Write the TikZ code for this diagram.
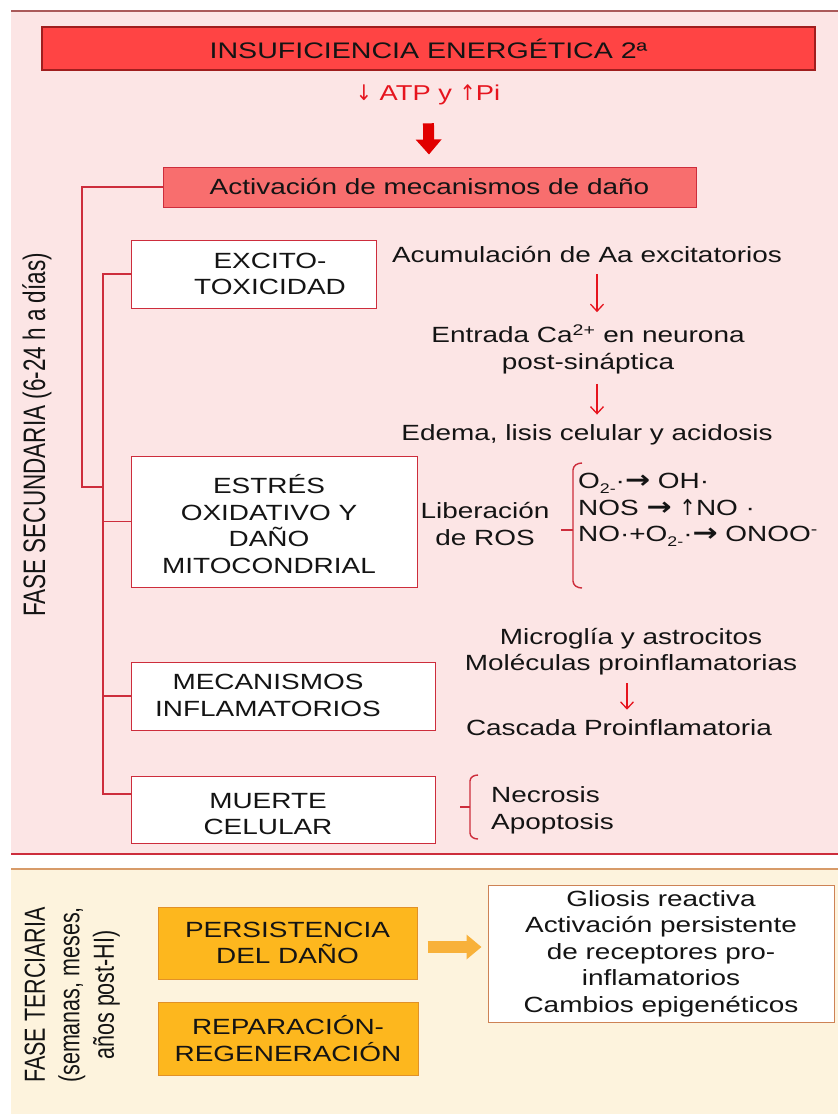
\documentclass[tikz,border=0pt]{standalone}
\usepackage{fontspec}
\setmainfont{Liberation Sans}[FakeStretch=1.27]
\newfontfamily\rotfont{Liberation Sans}
\newfontfamily\arrfont{DejaVu Sans}[FakeStretch=1.2]
\newfontfamily\updnfont{DejaVu Sans}[FakeStretch=0.9]
\usetikzlibrary{arrows.meta,calc}
\definecolor{pinkbg}{RGB}{252,229,229}
\definecolor{beigebg}{RGB}{253,243,221}
\definecolor{toplinec}{RGB}{170,90,90}
\definecolor{redline}{RGB}{205,45,60}
\definecolor{titlered}{RGB}{255,68,68}
\definecolor{titleborder}{RGB}{160,30,30}
\definecolor{actred}{RGB}{248,110,110}
\definecolor{arrred}{RGB}{230,20,30}
\definecolor{bigred}{RGB}{225,0,0}
\definecolor{goldfill}{RGB}{253,183,30}
\definecolor{goldborder}{RGB}{225,145,40}
\definecolor{orarrow}{RGB}{248,177,58}
\definecolor{tanline}{RGB}{215,155,105}
\definecolor{resborder}{RGB}{205,130,85}
\definecolor{txt}{RGB}{20,20,20}
\newcommand\bodysize{\fontsize{22}{26.5}\selectfont}
\newcommand\mysub[1]{\raisebox{-0.45ex}{\fontsize{14}{14}\selectfont #1}}
\newcommand\rarr{{\arrfont\bfseries\fontsize{25}{26}\selectfont →}}
\newcommand\uparr{{\updnfont ↑}}
\newcommand\dnarr{{\updnfont ↓}}
\begin{document}
\begin{tikzpicture}[x=1pt,y=1pt,font=\bodysize,text=txt,
  whitebox/.style={draw=redline,fill=white,line width=1pt,inner sep=0},
  goldbox/.style={draw=goldborder,fill=goldfill,line width=1pt,inner sep=0,align=center},
  conn/.style={draw=redline,line width=1.4pt},
  redarr/.style={draw=arrred,line width=1.3pt,-{Straight Barb[length=7pt,width=13pt]}},
  txtnode/.style={align=center,inner sep=0}]
\useasboundingbox (0,0) rectangle (838,-1114);
% backgrounds
\fill[pinkbg] (11,-11) rectangle (838,-854);
\draw[toplinec,line width=1.5pt] (11,-11) -- (838,-11);
\draw[redline,line width=2pt] (11,-854) -- (838,-854);
\fill[beigebg] (11,-869) rectangle (838,-1114);
\draw[tanline,line width=1.5pt] (11,-869) -- (838,-869);

% top
\node[draw=titleborder,fill=titlered,line width=1.2pt,minimum width=773,minimum height=43,inner sep=0,font=\fontsize{22.5}{27}\selectfont] (title) at (428.5,-48.5) {INSUFICIENCIA ENERGÉTICA 2ª};
\node[txtnode,text=arrred,font=\fontsize{21.5}{26}\selectfont] (atp) at (428,-95) {\dnarr\ ATP y \uparr Pi};
\node[draw=redline,fill=actred,line width=1pt,minimum width=533,minimum height=40,inner sep=0] (act) at (429.5,-187) {Activación de mecanismos de daño};
\draw[draw=bigred,line width=11pt,-{Triangle[length=15pt,width=25pt]},shorten <=18pt,shorten >=12pt] (atp) -- (act);

% left boxes
\node[whitebox,minimum width=245,minimum height=68] (bExc) at (253.5,-274) {};
\node[whitebox,minimum width=286,minimum height=131] (bEst) at (274,-521.5) {};
\node[whitebox,minimum width=304,minimum height=68] (bMec) at (283,-696) {};
\node[whitebox,minimum width=304,minimum height=67] (bMue) at (283,-809.5) {};
\node[txtnode] (tExc) at (270,-274) {EXCITO-\\TOXICIDAD};
\node[txtnode] (tEst) at (269,-524) {ESTRÉS\\OXIDATIVO Y\\DAÑO\\MITOCONDRIAL};
\node[txtnode] (tMec) at (268,-695.5) {MECANISMOS\\INFLAMATORIOS};
\node[txtnode] (tMue) at (268,-814) {MUERTE\\CELULAR};

% bracket connectors
\coordinate (j1) at (82,-487);
\coordinate (j2) at (103,-487);
\coordinate (mueC) at ([yshift=15.5pt]bMue.west);
\draw[conn] (act.west) -| (j1) -- (j2);
\draw[conn] (bExc.west) -- (bExc.west -| j2) |- (mueC);
\draw[conn] (bEst.west) -- (bEst.west -| j2);
\draw[conn] (bMec.west) -- (bMec.west -| j2);

% excitotoxicity chain
\coordinate (ax1) at (597,0);
\node[txtnode] (acum) at (587,-255) {Acumulación de Aa excitatorios};
\node[txtnode] (entr) at (588,-349) {Entrada Ca\textsuperscript{2+} en neurona\\post-sináptica};
\node[txtnode] (edema) at (587,-435) {Edema, lisis celular y acidosis};
\draw[redarr,shorten <=11pt,shorten >=12pt] (acum.south -| ax1) -- (entr.north -| ax1);
\draw[redarr,shorten <=10pt,shorten >=10pt] (entr.south -| ax1) -- (edema.north -| ax1);

% ROS
\node[txtnode] (ros) at (485,-524) {Liberación\\de ROS};
\node[txtnode,align=left,anchor=west] (form) at (578,-510) {O\mysub{2-}·\rarr\ OH·\\NOS \rarr\ \uparr NO ·\\NO·+O\mysub{2-}·\rarr\ ONOO\textsuperscript{-}};
\draw[conn] (582,-463) to[out=180,in=90] (573,-470) -- (573,-581) to[out=-90,in=180] (582,-588);
\draw[conn] (573,-530) -- (561,-530);

% inflammation
\coordinate (ax2) at (627,0);
\node[txtnode] (micro) at (631,-651.5) {Microglía y astrocitos\\Moléculas proinflamatorias};
\node[txtnode] (casc) at (619,-728) {Cascada Proinflamatoria};
\draw[redarr,shorten <=8pt,shorten >=10pt] (micro.south -| ax2) -- (casc.north -| ax2);

% cell death
\node[txtnode,align=left,anchor=west] (necro) at (491,-810.5) {Necrosis\\Apoptosis};
\draw[conn] (478,-775) to[out=180,in=90] (470,-781) -- (470,-833) to[out=-90,in=180] (478,-839);
\draw[conn] (470,-807) -- (460,-807);

% side labels
\node[rotate=90,inner sep=0] (fsec) at (37,-435) {\scalebox{1}[1.38]{\rotfont\fontsize{22.5}{26.5}\selectfont FASE SECUNDARIA (6-24 h a días)}};
\node[rotate=90,inner sep=0] (fter) at (72.5,-995) {\scalebox{1}[1.35]{\rotfont\fontsize{21.5}{25.5}\selectfont\begin{tabular}{@{}c@{}}FASE TERCIARIA\\(semanas, meses,\\años post-HI)\end{tabular}}};

% tertiary phase
\node[goldbox,minimum width=259,minimum height=72] (pers) at (287.5,-943) {PERSISTENCIA\\DEL DAÑO};
\node[goldbox,minimum width=260,minimum height=73] (rep) at (288,-1038.5) {REPARACIÓN-\\REGENERACIÓN};
\node[draw=resborder,fill=white,line width=1pt,minimum width=346,minimum height=137,inner sep=0,align=center] (res) at (661,-953.5) {Gliosis reactiva\\Activación persistente\\de receptores pro-\\inflamatorios\\Cambios epigenéticos};
\coordinate (arrS) at ([yshift=-4pt]pers.east);
\draw[draw=orarrow,line width=12pt,-{Triangle[length=15pt,width=24pt]},shorten <=10pt,shorten >=6pt] (arrS) -- (arrS -| res.west);
\end{tikzpicture}
\end{document}
